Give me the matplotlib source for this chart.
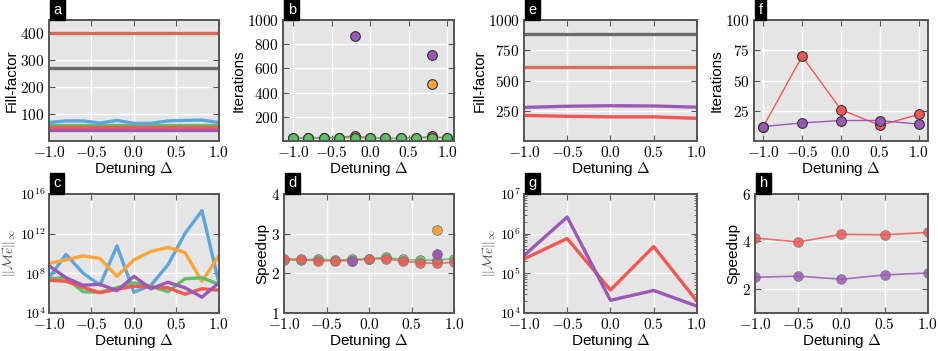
import matplotlib
matplotlib.use("Agg")
import matplotlib.pyplot as plt
import numpy as np
from matplotlib.ticker import FuncFormatter, FixedLocator, LogLocator, NullLocator

matplotlib.rcParams['font.family'] = ['Liberation Sans', 'DejaVu Sans']
matplotlib.rcParams['mathtext.fontset'] = 'cm'
matplotlib.rcParams['axes.unicode_minus'] = True

# colours
c_blue = '#5DA5DA'
c_orange = '#FAA43A'
c_green = '#60BD68'
c_red = '#F15854'
c_purple = '#9B59B6'
c_gray = '#6B6B6B'
c_brown = '#D56D5A'

# ---- data: left block (11 detunings) ----
x11 = [-1.0, -0.8, -0.6, -0.4, -0.2, 0.0, 0.2, 0.4, 0.6, 0.8, 1.0]

fill_a_blue = [69, 75, 75, 67, 77, 66, 66, 75, 77, 78, 69]
fill_a_green = [60] * 11
fill_a_red = [52] * 11
fill_a_orange = [46] * 11
fill_a_purple = [40] * 11
fill_a_gray = [272] * 11
fill_a_brown = [403] * 11

iter_b_green = [25, 25, 25, 28, 28, 25, 22, 22, 25, 28, 25]
iter_b_red = [25, 25, 25, 28, 45, 25, 22, 22, 25, 40, 25]
iter_b_purple = [np.nan, np.nan, np.nan, np.nan, 865, np.nan, np.nan, np.nan, np.nan, 710, np.nan]
iter_b_orange = [np.nan, np.nan, np.nan, np.nan, np.nan, np.nan, np.nan, np.nan, np.nan, 470, np.nan]

log_c_blue = [7.54, 9.9, 8.03, 6.8, 10.75, 6.1, 6.8, 8.85, 12.0, 14.3, 7.0]
log_c_orange = [9.0, 9.35, 9.75, 9.5, 7.7, 9.35, 10.2, 10.6, 10.1, 7.2, 9.75]
log_c_green = [7.45, 7.55, 6.15, 6.1, 6.55, 7.05, 6.7, 6.15, 7.45, 7.55, 6.9]
log_c_red = [7.3, 7.2, 6.6, 6.05, 6.4, 6.7, 6.6, 6.55, 5.9, 6.45, 6.3]
log_c_purple = [8.75, 7.55, 6.8, 6.9, 6.25, 7.7, 6.45, 7.1, 6.55, 5.6, 7.05]

speed_d_green = [2.33, 2.33, 2.36, 2.33, 2.35, 2.37, 2.40, 2.35, 2.33, 2.33, 2.37]
speed_d_red = [2.37, 2.35, 2.31, 2.32, 2.32, 2.36, 2.37, 2.30, 2.27, 2.25, 2.28]
speed_d_purple = [np.nan, np.nan, np.nan, np.nan, 2.31, np.nan, np.nan, np.nan, np.nan, 2.49, np.nan]
speed_d_orange = [np.nan, np.nan, np.nan, np.nan, np.nan, np.nan, np.nan, np.nan, np.nan, 3.10, np.nan]

# ---- data: right block (5 detunings) ----
x5 = [-1.0, -0.5, 0.0, 0.5, 1.0]

fill_e_gray = [882] * 5
fill_e_brown = [615] * 5
fill_e_purple = [278, 288, 292, 290, 280]
fill_e_red = [212, 205, 200, 200, 188]

iter_f_red = [12, 70, 26, 13, 22]
iter_f_purple = [12, 15, 17, 17, 14]

res_g_red = [2.3e5, 7.5e5, 3.8e4, 4.7e5, 2.0e4]
res_g_purple = [2.8e5, 2.6e6, 2.1e4, 3.7e4, 1.5e4]

speed_h_red = [4.15, 3.98, 4.30, 4.28, 4.38]
speed_h_purple = [2.50, 2.55, 2.42, 2.60, 2.68]

xticks = [-1.0, -0.5, 0.0, 0.5, 1.0]

fig = plt.figure(figsize=(9.38, 3.51), dpi=100)


def style(ax, letter, ylabel, log=False):
    ax.set_facecolor('#E5E5E5')
    ax.grid(True, color='white', linewidth=1.0, zorder=0)
    ax.set_axisbelow(True)
    for s in ax.spines.values():
        s.set_color('#555555')
        s.set_linewidth(1.4)
    ax.tick_params(direction='in', top=True, right=True, length=4, width=0.8,
                   color='#555555', labelsize=11, pad=3)
    ax.tick_params(which='minor', direction='in', top=True, right=True, length=2, color='#555555')
    ax.set_xticks(xticks)
    ax.xaxis.set_major_formatter(FuncFormatter(lambda v, p: r'$%.1f$' % v))
    if log:
        ax.yaxis.set_major_formatter(FuncFormatter(lambda v, p: r'$10^{%d}$' % round(np.log10(v))))
        ax.tick_params(axis='y', labelsize=10, pad=2)
        ax.set_ylabel(ylabel, fontsize=9.5, labelpad=1, color='#444444')
    else:
        ax.yaxis.set_major_formatter(FuncFormatter(lambda v, p: r'$%d$' % v))
        ax.set_ylabel(ylabel, fontsize=11, labelpad=1)
    ax.set_xlabel(r'Detuning $\Delta$', fontsize=11, labelpad=0)
    ax.text(0.027, 1.028, letter, transform=ax.transAxes, ha='left', va='bottom',
            color='white', fontsize=10.5,
            bbox=dict(boxstyle='square,pad=0.22', fc='black', ec='black'))


mk = dict(marker='o', markersize=7, markeredgecolor='#333333', markeredgewidth=0.8)
mk2 = dict(marker='o', markersize=7, markeredgecolor='#777777', markeredgewidth=0.6)

top_b, top_h = 0.598, 0.345
bot_b, bot_h = 0.108, 0.340

# panel a
ax = fig.add_axes([0.0522, top_b, 0.1812, top_h])
for y, c in [(fill_a_gray, c_gray), (fill_a_brown, c_brown), (fill_a_orange, c_orange),
             (fill_a_purple, c_purple), (fill_a_green, c_green), (fill_a_red, c_red),
             (fill_a_blue, c_blue)]:
    ax.plot(x11, y, color=c, linewidth=2.4)
ax.set_xlim(-1, 1)
ax.set_ylim(0, 450)
ax.set_yticks([100, 200, 300, 400])
style(ax, 'a', 'Fill-factor')

# panel b
ax = fig.add_axes([0.3017, top_b, 0.1823, top_h])
ax.plot(x11, iter_b_red, color=c_red, linewidth=1, **mk)
ax.plot(x11, iter_b_green, color=c_green, linewidth=1, **mk)
ax.plot(x11, iter_b_purple, color=c_purple, linewidth=1, **mk)
ax.plot(x11, iter_b_orange, color=c_orange, linewidth=1, **mk)
ax.set_xlim(-1.13, 1.09)
ax.set_ylim(0, 1000)
ax.set_yticks([200, 400, 600, 800, 1000])
style(ax, 'b', 'Iterations')

# panel c
ax = fig.add_axes([0.0522, bot_b, 0.1812, bot_h])
for y, c in [(log_c_blue, c_blue), (log_c_orange, c_orange), (log_c_green, c_green),
             (log_c_red, c_red), (log_c_purple, c_purple)]:
    ax.plot(x11, 10.0 ** np.array(y), color=c, linewidth=2.4)
ax.set_yscale('log')
ax.set_xlim(-1, 1)
ax.set_ylim(1e4, 1e16)
ax.yaxis.set_major_locator(FixedLocator([1e4, 1e8, 1e12, 1e16]))
ax.yaxis.set_minor_locator(NullLocator())
style(ax, 'c', r'$||\mathcal{M}\vec{e}||_\infty$', log=True)

# panel d
ax = fig.add_axes([0.3028, bot_b, 0.1812, bot_h])
ax.plot(x11, speed_d_green, color=c_green, linewidth=1.2, alpha=0.85, **mk2)
ax.plot(x11, speed_d_red, color=c_red, linewidth=1.2, alpha=0.85, **mk2)
ax.plot(x11, speed_d_purple, color=c_purple, **mk2)
ax.plot(x11, speed_d_orange, color=c_orange, **mk2)
ax.set_xlim(-1, 1)
ax.set_ylim(1, 4)
ax.set_yticks([1, 2, 3, 4])
style(ax, 'd', 'Speedup')

# panel e
ax = fig.add_axes([0.5586, top_b, 0.1844, top_h])
for y, c in [(fill_e_gray, c_gray), (fill_e_brown, c_brown), (fill_e_purple, c_purple),
             (fill_e_red, c_red)]:
    ax.plot(x5, y, color=c, linewidth=2.4)
ax.set_xlim(-1, 1)
ax.set_ylim(0, 1000)
ax.set_yticks([250, 500, 750, 1000])
style(ax, 'e', 'Fill-factor')

# panel f
ax = fig.add_axes([0.8038, top_b, 0.1855, top_h])
ax.plot(x5, iter_f_red, color=c_red, linewidth=1, **mk)
ax.plot(x5, iter_f_purple, color=c_purple, linewidth=1, **mk)
ax.set_xlim(-1.12, 1.12)
ax.set_ylim(0, 100)
ax.set_yticks([25, 50, 75, 100])
style(ax, 'f', 'Iterations')

# panel g
ax = fig.add_axes([0.5586, bot_b, 0.1844, bot_h])
ax.plot(x5, res_g_red, color=c_red, linewidth=2.4)
ax.plot(x5, res_g_purple, color=c_purple, linewidth=2.4)
ax.set_yscale('log')
ax.set_xlim(-1, 1)
ax.set_ylim(1e4, 1e7)
ax.yaxis.set_major_locator(FixedLocator([1e4, 1e5, 1e6, 1e7]))
ax.yaxis.set_minor_locator(LogLocator(subs=np.arange(2, 10)))
style(ax, 'g', r'$||\mathcal{M}\vec{e}||_\infty$', log=True)

# panel h
ax = fig.add_axes([0.8049, bot_b, 0.1844, bot_h])
ax.plot(x5, speed_h_red, color=c_red, linewidth=1.2, alpha=0.85, **mk2)
ax.plot(x5, speed_h_purple, color=c_purple, linewidth=1.2, alpha=0.85, **mk2)
ax.set_xlim(-1, 1)
ax.set_ylim(1, 6)
ax.set_yticks([2, 4, 6])
style(ax, 'h', 'Speedup')

fig.savefig('out.png', dpi=100)
